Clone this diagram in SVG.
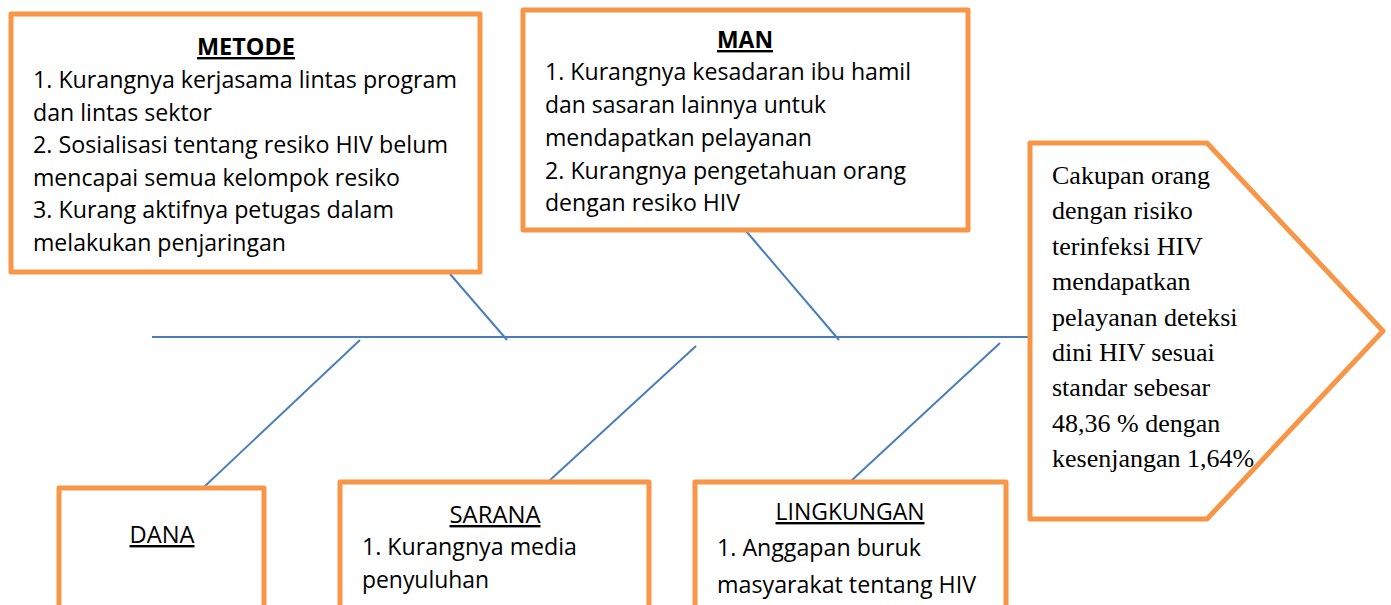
<svg xmlns="http://www.w3.org/2000/svg" width="1391" height="605" viewBox="0 0 1391 605">
<style>
.box{fill:#fff;stroke:#F79646;stroke-width:5;stroke-linejoin:round}
.bone{stroke:#4A7EBB;stroke-width:2;fill:none}
.t{font-family:"Open Sans","Liberation Sans",sans-serif;font-size:24px;fill:#000}
.h{font-weight:bold;text-decoration:underline}
.u{text-decoration:underline}
.s{font-family:"Liberation Serif","Times New Roman",serif;font-size:26px;fill:#000}
</style>
<rect width="1391" height="605" fill="#fff"/>
<g id="connectors">
<line class="bone" x1="152" y1="337" x2="1029" y2="337"/>
<line class="bone" x1="450" y1="274" x2="507" y2="340"/>
<line class="bone" x1="746" y1="231" x2="839" y2="340"/>
<line class="bone" x1="360" y1="340" x2="204" y2="487"/>
<line class="bone" x1="696" y1="346" x2="549" y2="481"/>
<line class="bone" x1="1000" y1="343" x2="851" y2="481"/>
</g>
<g id="metode">
<rect class="box" x="11" y="14" width="469" height="258"/>
<text class="t h" x="246" y="55" text-anchor="middle" textLength="98" lengthAdjust="spacingAndGlyphs">METODE</text>
<text class="t" x="33" y="88" textLength="424" lengthAdjust="spacingAndGlyphs">1. Kurangnya kerjasama lintas program</text>
<text class="t" x="33" y="120.5" textLength="179" lengthAdjust="spacingAndGlyphs">dan lintas sektor</text>
<text class="t" x="33" y="153" textLength="415" lengthAdjust="spacingAndGlyphs">2. Sosialisasi tentang resiko HIV belum</text>
<text class="t" x="33" y="185.5" textLength="367" lengthAdjust="spacingAndGlyphs">mencapai semua kelompok resiko</text>
<text class="t" x="33" y="218" textLength="361" lengthAdjust="spacingAndGlyphs">3. Kurang aktifnya petugas dalam</text>
<text class="t" x="33" y="250.5" textLength="253" lengthAdjust="spacingAndGlyphs">melakukan penjaringan</text>
</g>
<g id="man">
<rect class="box" x="523" y="10" width="445" height="220"/>
<text class="t h" x="745" y="48" text-anchor="middle" textLength="56" lengthAdjust="spacingAndGlyphs">MAN</text>
<text class="t" x="545" y="80" textLength="366" lengthAdjust="spacingAndGlyphs">1. Kurangnya kesadaran ibu hamil</text>
<text class="t" x="545" y="113" textLength="281" lengthAdjust="spacingAndGlyphs">dan sasaran lainnya untuk</text>
<text class="t" x="545" y="146" textLength="267" lengthAdjust="spacingAndGlyphs">mendapatkan pelayanan</text>
<text class="t" x="545" y="178.5" textLength="361" lengthAdjust="spacingAndGlyphs">2. Kurangnya pengetahuan orang</text>
<text class="t" x="545" y="211" textLength="195" lengthAdjust="spacingAndGlyphs">dengan resiko HIV</text>
</g>
<g id="effect">
<path class="box" d="M1030,143 L1207,143 L1383,331 L1207,519 L1030,519 Z" stroke-linejoin="miter"/>
<text class="s" x="1052" y="184">Cakupan orang</text>
<text class="s" x="1052" y="219.4">dengan risiko</text>
<text class="s" x="1052" y="254.8">terinfeksi HIV</text>
<text class="s" x="1052" y="290.2">mendapatkan</text>
<text class="s" x="1052" y="325.6">pelayanan deteksi</text>
<text class="s" x="1052" y="361">dini HIV sesuai</text>
<text class="s" x="1052" y="396.4">standar sebesar</text>
<text class="s" x="1052" y="431.8">48,36 % dengan</text>
<text class="s" x="1052" y="467.2">kesenjangan 1,64%</text>
</g>
<g id="dana">
<rect class="box" x="59" y="488" width="205" height="140"/>
<text class="t u" x="162" y="543" text-anchor="middle" textLength="65" lengthAdjust="spacingAndGlyphs">DANA</text>
</g>
<g id="sarana">
<rect class="box" x="340" y="482" width="309" height="146"/>
<text class="t u" x="495" y="523" text-anchor="middle" textLength="91" lengthAdjust="spacingAndGlyphs">SARANA</text>
<text class="t" x="362" y="555" textLength="215" lengthAdjust="spacingAndGlyphs">1. Kurangnya media</text>
<text class="t" x="362" y="588" textLength="127" lengthAdjust="spacingAndGlyphs">penyuluhan</text>
</g>
<g id="lingkungan">
<rect class="box" x="695" y="482" width="311" height="146"/>
<text class="t u" x="850" y="520" text-anchor="middle" textLength="149" lengthAdjust="spacingAndGlyphs">LINGKUNGAN</text>
<text class="t" x="717" y="556" textLength="204" lengthAdjust="spacingAndGlyphs">1. Anggapan buruk</text>
<text class="t" x="717" y="593" textLength="259" lengthAdjust="spacingAndGlyphs">masyarakat tentang HIV</text>
</g>
</svg>
